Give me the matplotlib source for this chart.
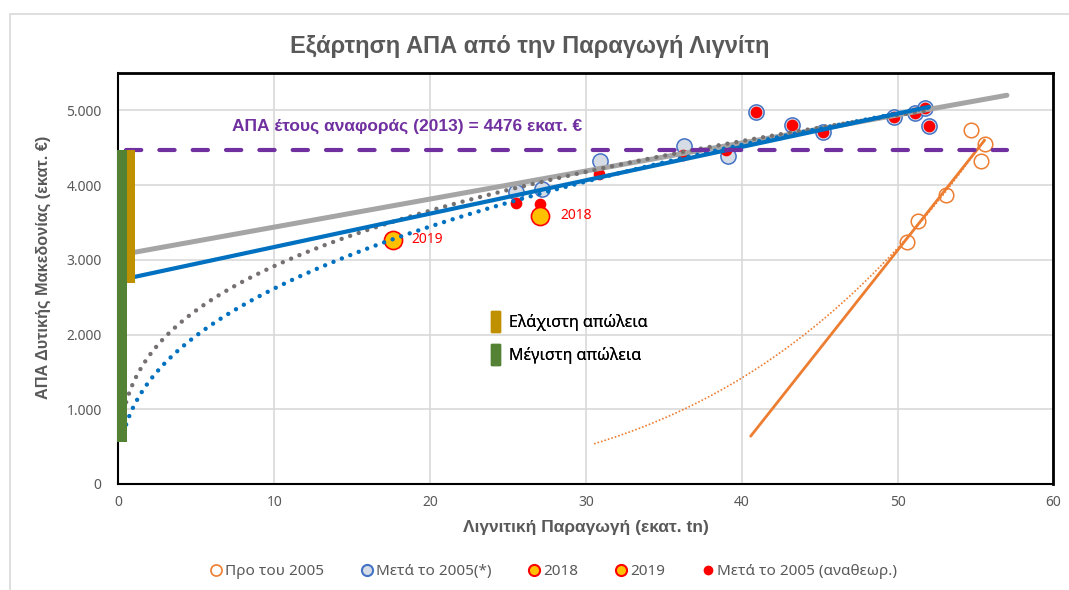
import matplotlib
matplotlib.use("Agg")
import matplotlib.pyplot as plt
import numpy as np
from matplotlib.lines import Line2D
from matplotlib.patches import Patch, Rectangle
from matplotlib.ticker import FuncFormatter

plt.rcParams["font.family"] = ["Noto Sans", "DejaVu Sans"]
plt.rcParams["lines.scale_dashes"] = False
BOLD = ["Liberation Sans", "DejaVu Sans"]

# --- data ---
# lignite production (Mt) vs GDP of West Macedonia (M EUR)
pre2005_x = [54.73, 55.58, 55.35, 53.12, 51.33, 50.57]
pre2005_y = [4732, 4553, 4317, 3870, 3522, 3232]

post2005_x = [25.53, 27.17, 30.89, 36.31, 39.10, 40.90, 43.25, 45.20, 49.78, 51.10, 51.74, 52.01]
post2005_y = [3901, 3946, 4326, 4518, 4384, 4973, 4799, 4705, 4906, 4964, 5031, 4795]

revised_x = [25.49, 27.08, 30.85, 36.20, 39.00, 40.90, 43.25, 45.20, 49.78, 51.10, 51.74, 52.01]
revised_y = [3758, 3745, 4152, 4398, 4464, 4973, 4799, 4705, 4906, 4964, 5031, 4795]

y2018 = (27.08, 3589)
y2019 = (17.60, 3268)

gdp_ref = 4476          # reference year 2013
loss_min_low = 2690     # minimum loss bar bottom
loss_max_low = 560      # maximum loss bar bottom

# colours
orange = "#ED7D31"
blue = "#0070C0"
mblue = "#4472C4"
lblue = "#D6DCE5"
gray_l = "#A5A5A5"
gray_d = "#767171"
purple = "#7030A0"
gold = "#BF9000"
green = "#548235"
txt = "#595959"


def lin_fit(x, y, x0, x1):
    k, b = np.polyfit(x, y, 1)
    xs = np.linspace(x0, x1, 200)
    return xs, k * xs + b


def pow_fit(x, y, x0, x1):
    b, lna = np.polyfit(np.log(x), np.log(y), 1)
    xs = np.linspace(x0, x1, 400)
    return xs, np.exp(lna) * xs ** b


fig = plt.figure(figsize=(10.69, 5.90), dpi=100)
ax = fig.add_axes([0.1107, 0.1797, 0.8748, 0.6966])

# outer chart border
fig.patches.append(Rectangle((10 / 1069, -0.05), 1.2, 1 - 14 / 590 + 0.05,
                             transform=fig.transFigure, fill=False,
                             edgecolor="#D9D9D9", lw=1.2))

ax.set_xlim(0, 60)
ax.set_ylim(0, 5500)
ax.set_xticks(range(0, 61, 10))
ax.set_yticks(range(0, 5001, 1000))
ax.yaxis.set_major_formatter(FuncFormatter(lambda v, p: f"{int(v):,}".replace(",", ".")))
ax.grid(True, color="#D9D9D9", lw=1.2)
ax.set_axisbelow(True)
ax.tick_params(length=0, labelsize=10, labelcolor=txt)
ax.tick_params(axis="y", pad=12)
ax.tick_params(axis="x", pad=8)
for s in ax.spines.values():
    s.set_color("black")
    s.set_linewidth(2)
ax.spines["left"].set_linewidth(1.5)
ax.spines["bottom"].set_linewidth(1.5)

# markers
ax.scatter(pre2005_x, pre2005_y, s=110, facecolors="white", edgecolors=orange, lw=1.1, zorder=3)
ax.scatter(post2005_x, post2005_y, s=120, facecolors=lblue, edgecolors=mblue, lw=1.1, zorder=3)
ax.scatter(revised_x, revised_y, s=55, color="red", zorder=3.5)
ax.scatter(*y2018, s=170, facecolors="#FFC000", edgecolors="red", lw=1.2, zorder=3.5)
ax.scatter(*y2019, s=170, facecolors="#FFC000", edgecolors="red", lw=1.2, zorder=3.5)
ax.text(y2018[0] + 1.3, y2018[1], "2018", color="red", fontsize=10, va="center")
ax.text(y2019[0] + 1.2, y2019[1], "2019", color="red", fontsize=10, va="center")

# trend lines
xs, ys = lin_fit(post2005_x, post2005_y, 0.5, max(post2005_x) + 5)
ax.plot(xs, ys, color=gray_l, lw=3.6, solid_capstyle="round", zorder=4)
xs, ys = pow_fit(post2005_x, post2005_y, 0.5, max(post2005_x))
ax.plot(xs, ys, color=gray_d, lw=3.2, ls=(0, (0.01, 6.5)), dash_capstyle="round", zorder=4)
xs, ys = lin_fit(revised_x, revised_y, 0.5, max(revised_x))
ax.plot(xs, ys, color=blue, lw=3.0, solid_capstyle="round", zorder=4.2)
xs, ys = pow_fit(revised_x, revised_y, 0.5, max(revised_x))
ax.plot(xs, ys, color=blue, lw=3.2, ls=(0, (0.01, 6.5)), dash_capstyle="round", zorder=4.2)
xs, ys = lin_fit(pre2005_x, pre2005_y, min(pre2005_x) - 10, max(pre2005_x))
ax.plot(xs, ys, color=orange, lw=2.0, solid_capstyle="round", zorder=4)
xs, ys = pow_fit(pre2005_x, pre2005_y, min(pre2005_x) - 20, max(pre2005_x))
ax.plot(xs, ys, color=orange, lw=1.4, ls=(0, (0.01, 2.6)), dash_capstyle="round", zorder=4)

# reference GDP line
ax.plot([0.5, 57.0], [gdp_ref, gdp_ref], color=purple, lw=3.0,
        ls=(0, (11, 13)), dash_capstyle="round", zorder=5)
ax.text(7.3, 4781, f"ΑΠΑ έτους αναφοράς (2013) = {gdp_ref} εκατ. €",
        color=purple, fontsize=12.5, fontweight="bold", family=BOLD, va="center")

# loss bars
ax.bar(0.22, gdp_ref - loss_max_low, bottom=loss_max_low, width=0.64,
       color=green, zorder=6, clip_on=False)
ax.bar(0.8, gdp_ref - loss_min_low, bottom=loss_min_low, width=0.5,
       color=gold, zorder=6)

leg1 = ax.legend(handles=[Patch(color=gold, label="Ελάχιστη απώλεια"),
                          Patch(color=green, label="Μέγιστη απώλεια")],
                 loc="center left", bbox_to_anchor=(0.399, 0.355), frameon=False,
                 handlelength=0.5, handleheight=1.7, handletextpad=0.6,
                 labelspacing=0.7, fontsize=11.6, borderpad=0, borderaxespad=0)
ax.add_artist(leg1)

fig.text(530 / 1069, 1 - 46 / 590, "Εξάρτηση ΑΠΑ από την Παραγωγή Λιγνίτη",
         fontsize=17, fontweight="bold", family=BOLD, color=txt,
         ha="center", va="center")
ax.set_xlabel("Λιγνιτική Παραγωγή (εκατ. tn)", fontsize=12.5, fontweight="bold",
              family=BOLD, color=txt, labelpad=7)
ax.set_ylabel("ΑΠΑ Δυτικής Μακεδονίας (εκατ. €)", fontsize=11.7, fontweight="bold",
              family=BOLD, color=txt)
ax.yaxis.set_label_coords(-0.072, 0.528)

handles = [
    Line2D([], [], ls="none", marker="o", ms=8, mfc="white", mec=orange, mew=1.2),
    Line2D([], [], ls="none", marker="o", ms=8, mfc=lblue, mec=mblue, mew=1.5),
    Line2D([], [], ls="none", marker="o", ms=8, mfc="#FFC000", mec="red", mew=1.5),
    Line2D([], [], ls="none", marker="o", ms=8, mfc="#FFC000", mec="red", mew=1.5),
    Line2D([], [], ls="none", marker="o", ms=6, mfc="red", mec="red"),
]
labels = ["Προ του 2005", "Μετά το 2005(*)", "2018", "2019", "Μετά το 2005 (αναθεωρ.)"]
fig.legend(handles, labels, loc="center", bbox_to_anchor=(0.517, 0.031), ncol=5,
           frameon=False, fontsize=11, labelcolor=txt, handletextpad=0.1,
           columnspacing=2.3, handlelength=1.0)

fig.savefig("out.png", dpi=100)
